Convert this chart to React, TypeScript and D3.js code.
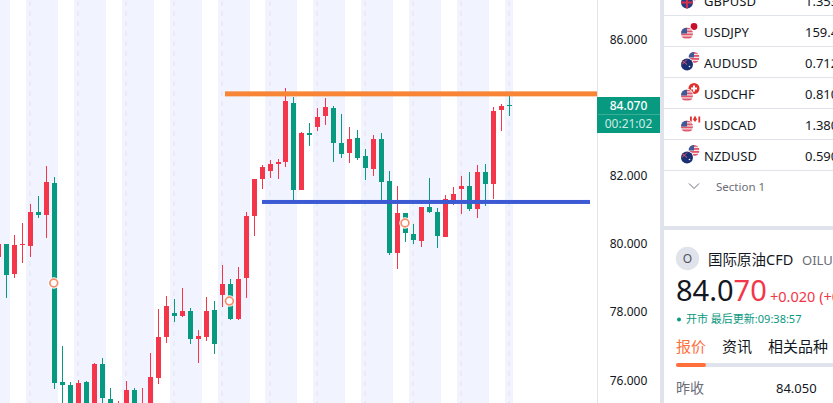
import * as d3 from "d3";

const W = 833;
const H = 403;
const FONT = '"Noto Sans", "Noto Sans CJK SC", sans-serif';

// candle index 0 is the first full candle, -1 is cut off by the left edge
const firstIndex = -1;
const opens = [79.616, 79.997, 79.117, 79.967, 79.938, 80.935, 80.847, 81.786, 75.95, 75.862, 75.129, 75.95, 75.187, 76.478, 75.451, 75.07, 75.129, 75.715, 75.01, 75.129, 76.067, 77.27, 77.973, 77.885, 78.032, 77.211, 77.27, 78.061, 78.501, 78.824, 77.797, 78.999, 80.818, 81.903, 82.138, 82.343, 82.401, 84.132, 81.581, 83.252, 83.428, 83.751, 83.985, 82.959, 82.666, 83.105, 82.578, 82.196, 83.076, 81.845, 79.733, 80.906, 80.291, 80.085, 81.082, 80.935, 80.203, 81.17, 81.61, 81.698, 81.023, 82.108, 81.757, 83.927, 84.08];
const highs = [80.114, 79.997, 80.261, 80.613, 81.17, 81.405, 82.284, 81.962, 77.006, 75.95, 76.009, 75.979, 76.507, 76.653, 75.774, 75.393, 75.98, 75.774, 75.774, 76.8, 78.091, 78.472, 78.384, 78.706, 78.12, 77.475, 78.443, 78.326, 79.381, 78.97, 79.323, 80.935, 81.903, 82.313, 82.46, 82.49, 84.572, 84.308, 83.281, 83.545, 83.985, 84.279, 84.044, 83.81, 83.428, 83.34, 82.783, 83.193, 83.252, 82.138, 81.698, 80.906, 80.584, 81.082, 81.932, 81.052, 81.434, 81.669, 81.991, 82.108, 82.313, 82.343, 84.015, 84.103, 84.337];
const lows = [79.528, 78.413, 78.999, 79.44, 79.616, 80.759, 80.173, 75.745, 75.129, 74.982, 74.982, 74.982, 75.129, 75.129, 74.982, 74.982, 74.982, 74.982, 74.9, 74.982, 75.892, 77.094, 77.709, 77.856, 77.065, 76.507, 77.153, 76.771, 78.15, 77.768, 77.768, 78.413, 80.232, 81.61, 81.932, 81.903, 82.255, 81.199, 81.581, 82.871, 83.311, 83.486, 82.401, 82.519, 82.372, 82.46, 81.874, 81.991, 81.199, 79.674, 79.264, 80.055, 79.997, 79.909, 80.906, 79.879, 80.203, 81.14, 80.877, 80.965, 80.759, 81.111, 81.317, 83.311, 83.751];
const closes = [79.997, 79.087, 79.967, 79.997, 80.935, 80.847, 81.815, 75.921, 75.862, 75.129, 75.921, 75.187, 76.478, 75.48, 75.129, 75.187, 75.715, 75.129, 75.187, 76.097, 77.27, 78.179, 77.885, 78.032, 77.211, 77.299, 78.032, 77.065, 78.824, 77.797, 78.97, 80.818, 81.903, 82.255, 82.343, 82.401, 84.191, 81.581, 83.252, 83.193, 83.722, 84.015, 82.959, 82.637, 83.076, 82.519, 82.225, 83.076, 81.815, 79.733, 80.906, 80.32, 80.114, 81.082, 80.935, 80.232, 81.317, 81.464, 81.698, 81.023, 82.108, 81.757, 83.898, 84.044, 84.07];

const priceTicks = [86, 82, 80, 78, 76];
const resistance = 84.4;
const support = 81.23;
const lastPrice = "84.070";
const countdown = "00:21:02";
// candles carrying the round event marker, with the price it sits at
const markerIndex = [6, 28, 50];
const markerPrice = [78.853, 78.325, 80.613];
// off-hours shading, first candle of each 4-candle block
const bandStarts = [-3, 3, 9, 15, 21, 27, 33, 39, 45, 51, 57, 63];

const symbols = ["GBPUSD", "USDJPY", "AUDUSD", "USDCHF", "USDCAD", "NZDUSD"];
const quotes = ["1.3531", "159.45", "0.7128", "0.8102", "1.3805", "0.5906"];
const tabs = ["报价", "资讯", "相关品种"];

const RED = "#F4364A";
const GREEN = "#089981";
const GRID = "#E0E3EB";

const x = d3.scaleLinear().domain([0, 63]).range([7.05, 510.04]);
const y = d3.scaleLinear().domain([86, 76]).range([39.3, 380.3]);

const candles = d3.range(opens.length).map((k) => ({
  i: k + firstIndex,
  o: opens[k],
  h: highs[k],
  l: lows[k],
  c: closes[k],
}));

function Candle({ d }: { d: (typeof candles)[number] }) {
  const left = Math.floor(x(d.i) - 2.5);
  const top = Math.round(y(Math.max(d.o, d.c)));
  const bottom = Math.round(y(Math.min(d.o, d.c)));
  const color = d.c >= d.o ? RED : GREEN;
  return (
    <g fill={color}>
      <rect
        x={left + 2}
        width={1}
        y={Math.round(y(d.h))}
        height={Math.round(y(d.l)) - Math.round(y(d.h))}
      />
      <rect x={left} width={5} y={top} height={Math.max(1, bottom - top)} />
    </g>
  );
}

function UsFlag({ cx, cy, r, id }: { cx: number; cy: number; r: number; id: string }) {
  return (
    <g clipPath={`url(#${id})`}>
      <clipPath id={id}>
        <circle cx={cx} cy={cy} r={r} />
      </clipPath>
      <circle cx={cx} cy={cy} r={r} fill="#F7E4E6" />
      {d3.range(4).map((k) => (
        <rect
          key={k}
          x={cx - r}
          y={cy - r + k * 3}
          width={r * 2}
          height={1.8}
          fill="#E0566A"
        />
      ))}
      <rect x={cx - r} y={cy - r} width={r} height={r} fill="#3F5A98" />
    </g>
  );
}

function OzFlag({ cx, cy, r }: { cx: number; cy: number; r: number }) {
  return (
    <g>
      <circle cx={cx} cy={cy} r={r} fill="#1B2F75" />
      <path
        d={`M${cx - r + 1},${cy - r + 2}L${cx},${cy}M${cx},${cy - r + 1}L${cx - r + 1},${cy}`}
        stroke="#E8596A"
        strokeWidth={1}
      />
      <circle cx={cx + 2.5} cy={cy + 2} r={0.8} fill="#fff" />
    </g>
  );
}

function Flags({ symbol, cy, k }: { symbol: string; cy: number; k: number }) {
  const fx = 687;
  const bx = 694;
  const by = cy - 5.5;
  const fy = cy + 1.5;
  const halo = <circle cx={fx} cy={fy} r={6.8} fill="#fff" />;
  if (symbol === "GBPUSD") {
    return (
      <g>
        <UsFlag cx={bx} cy={by} r={5} id={`b${k}`} />
        {halo}
        <circle cx={fx} cy={fy} r={6} fill="#27397F" />
        <path
          d={`M${fx - 6},${fy}H${fx + 6}M${fx},${fy - 6}V${fy + 6}`}
          stroke="#D8304A"
          strokeWidth={2}
        />
      </g>
    );
  }
  if (symbol === "AUDUSD" || symbol === "NZDUSD") {
    return (
      <g>
        <UsFlag cx={bx} cy={by} r={5.5} id={`b${k}`} />
        {halo}
        <OzFlag cx={fx} cy={fy} r={6} />
      </g>
    );
  }
  return (
    <g>
      {symbol === "USDJPY" && (
        <g>
          <circle cx={bx} cy={by} r={5} fill="#fff" />
          <circle cx={bx} cy={by} r={3.4} fill="#C8102E" />
        </g>
      )}
      {symbol === "USDCHF" && (
        <g>
          <circle cx={bx} cy={by} r={5.5} fill="#E0322E" />
          <path
            d={`M${bx - 3},${by}H${bx + 3}M${bx},${by - 3}V${by + 3}`}
            stroke="#fff"
            strokeWidth={2}
          />
        </g>
      )}
      {symbol === "USDCAD" && (
        <g>
          <circle cx={bx + 1} cy={by} r={5.5} fill="#fff" />
          <rect x={bx - 4} y={by - 3} width={1.8} height={6} fill="#E0322E" />
          <rect x={bx + 4.4} y={by - 3} width={1.8} height={6} fill="#E0322E" />
          <path d={`M${bx + 1},${by - 4}l2,4l-2,2.4l-2,-2.4z`} fill="#E0322E" />
        </g>
      )}
      {halo}
      <UsFlag cx={fx} cy={fy} r={6} id={`f${k}`} />
    </g>
  );
}

export default function App() {
  return (
    <svg
      width={W}
      height={H}
      viewBox={`0 0 ${W} ${H}`}
      style={{ position: "fixed", left: 0, top: 0, background: "#fff", fontFamily: FONT }}
    >
      <defs>
        <clipPath id="plot">
          <rect x={0} y={0} width={598} height={H} />
        </clipPath>
      </defs>

      <g clipPath="url(#plot)">
        {bandStarts.map((s, k) => {
          const bx = Math.floor(x(s) - 4.55);
          const last = k === bandStarts.length - 1;
          const w = last ? 8 : 32;
          return (
            <g key={s}>
              <rect x={bx} y={0} width={w} height={H} fill="#F1F4FE" />
              <line
                x1={Math.round(x(s) - 1)}
                x2={Math.round(x(s) - 1)}
                y1={1}
                y2={H}
                stroke="#E9ECF6"
                strokeWidth={2}
                strokeDasharray="5 5"
              />
            </g>
          );
        })}
        {candles.map((d) => (
          <Candle key={d.i} d={d} />
        ))}
        {markerIndex.map((m, k) => (
          <g key={m}>
            <circle cx={x(m) - 1.2} cy={y(markerPrice[k])} r={5.8} fill="#fff" />
            <circle
              cx={x(m) - 1.2}
              cy={y(markerPrice[k])}
              r={3.9}
              fill="#fff"
              stroke="#F68E6C"
              strokeWidth={1.7}
            />
          </g>
        ))}
        <rect x={225} y={y(resistance) - 2.5} width={374} height={5} fill="#F78535" />
        <rect x={262} y={y(support) - 2} width={328} height={4} fill="#3B5AD3" />
      </g>

      {/* price axis */}
      <rect x={597} y={0} width={1} height={H} fill={GRID} />
      {priceTicks.map((t) => (
        <text
          key={t}
          x={628.5}
          y={y(t)}
          dy="0.35em"
          textAnchor="middle"
          fontSize={12}
          fill="#131722"
        >
          {t.toFixed(3)}
        </text>
      ))}
      <rect x={597} y={97} width={63} height={36} fill={GREEN} />
      <rect x={598} y={114} width={62} height={1} fill="#3AAD99" />
      <text x={628.5} y={105.5} dy="0.35em" textAnchor="middle" fontSize={12} fontWeight={500} fill="#fff">
        {lastPrice}
      </text>
      <text x={628.5} y={123.5} dy="0.35em" textAnchor="middle" fontSize={12} fill="#CDEBE4">
        {countdown}
      </text>

      {/* side panels */}
      <rect x={660} y={0} width={4} height={H} fill={GRID} />
      <rect x={664} y={226} width={W - 664} height={4} fill={GRID} />
      {symbols.map((s, k) => {
        const rowY = 1 + k * 31;
        return (
          <g key={s}>
            <rect x={664} y={rowY + 14} width={W - 664} height={1} fill={GRID} />
            <Flags symbol={s} cy={rowY} k={k} />
            <text x={704} y={rowY} dy="0.35em" fontSize={13} fill="#131722">
              {s}
            </text>
            <text x={805} y={rowY} dy="0.35em" fontSize={13} fill="#131722">
              {quotes[k]}
            </text>
          </g>
        );
      })}
      <path d="M689,183.5l5,5l5,-5" fill="none" stroke="#6A6D78" strokeWidth={1} />
      <text x={716} y={186.5} dy="0.35em" fontSize={11.5} fill="#6A6D78">
        Section 1
      </text>

      <circle cx={687.5} cy={258.5} r={11.7} fill={GRID} />
      <text x={687.5} y={258.5} dy="0.35em" textAnchor="middle" fontSize={12} fill="#50535E">
        O
      </text>
      <text x={708} y={259.5} dy="0.35em" fontSize={14.5} fill="#131722">
        国际原油CFD
      </text>
      <text x={802} y={260} dy="0.35em" fontSize={13} fill="#6A6D78">
        OILUSD
      </text>
      <text x={676} y={301} fontSize={29} fill="#131722">
        84.0<tspan fill={RED}>70</tspan>
      </text>
      <text x={770} y={302} fontSize={14.5} fill={RED}>
        +0.020 (+0.02%)
      </text>
      <circle cx={679} cy={319.5} r={2} fill={GREEN} />
      <text x={686} y={319} dy="0.35em" fontSize={11} fill={GREEN}>
        开市 最后更新:09:38:57
      </text>
      {tabs.map((t, k) => (
        <text
          key={t}
          x={[676, 722, 768][k]}
          y={347}
          dy="0.35em"
          fontSize={15}
          fill={k === 0 ? "#FF6F3C" : "#131722"}
        >
          {t}
        </text>
      ))}
      <rect x={676} y={363} width={170} height={4} rx={2} fill={GRID} />
      <rect x={676} y={363} width={30} height={4} rx={2} fill="#FF6F3C" />
      <text x={676} y={388} dy="0.35em" fontSize={14} fill="#6A6D78">
        昨收
      </text>
      <text x={776} y={388} dy="0.35em" fontSize={13} fill="#131722">
        84.050
      </text>
    </svg>
  );
}
